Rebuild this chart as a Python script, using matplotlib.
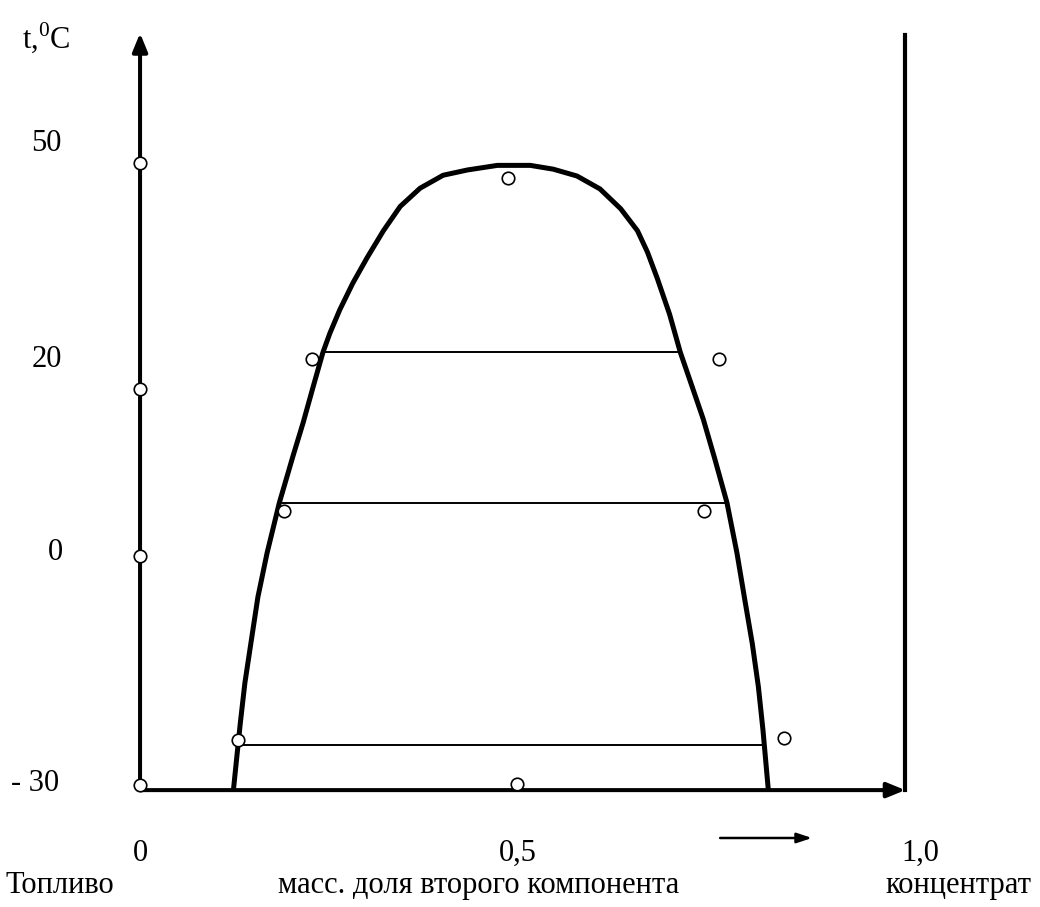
import matplotlib.pyplot as plt

plt.rcParams['font.family'] = ['Liberation Serif', 'DejaVu Serif']
plt.rcParams['mathtext.fontset'] = 'custom'
plt.rcParams['mathtext.rm'] = 'Liberation Serif'

# binodal curve (mass fraction, temperature)
curve_x = [0.122, 0.127, 0.131, 0.137, 0.146, 0.154, 0.166, 0.182, 0.200, 0.213,
           0.226, 0.239, 0.248, 0.261, 0.278, 0.297, 0.318, 0.340, 0.366, 0.396,
           0.428, 0.467, 0.510, 0.540, 0.571, 0.601, 0.628, 0.650, 0.663, 0.676,
           0.692, 0.706, 0.719, 0.736, 0.751, 0.767, 0.780, 0.791, 0.800, 0.808,
           0.814, 0.821]
curve_t = [-30.8, -25.9, -22.0, -16.7, -10.7, -5.4, 0.4, 7.0, 13.2, 17.5,
           22.2, 26.8, 29.3, 32.4, 35.9, 39.3, 42.8, 46.0, 48.4, 50.1,
           50.8, 51.4, 51.4, 50.9, 50.0, 48.3, 45.7, 42.8, 40.0, 36.5,
           31.8, 26.8, 23.0, 18.0, 12.8, 7.0, 0.4, -6.2, -11.5, -17.2,
           -22.9, -30.8]

# tie lines
tie_t = [26.8, 7.0, -24.9]
tie_x0 = [0.239, 0.182, 0.131]
tie_x1 = [0.706, 0.767, 0.814]

# measured points
pts_x = [0, 0, 0, 0, 0.481, 0.225, 0.757, 0.188, 0.737, 0.128, 0.841, 0.493]
pts_t = [51.7, 22.0, 0.0, -30.1, 49.7, 25.9, 25.9, 5.9, 5.9, -24.2, -23.9, -30.0]

ytick_labels = ['50', '20', '0', '- 30']
ytick_pos = [54.3, 25.8, 0.4, -29.9]
ytick_x = [-0.122, -0.122, -0.111, -0.137]
xtick_labels = ['0', '0,5', '1,0']
xtick_pos = [0.0, 0.493, 1.020]

base_t = -30.8
top_t = 68.8
fs = 22

fig = plt.figure(figsize=(10.4, 9.07), dpi=100)
ax = fig.add_axes([0, 0, 1, 1])
ax.set_xlim(-0.183, 1.176)
ax.set_ylim(-46.18, 73.16)
ax.axis('off')

# axes
ax.annotate('', xy=(0, top_t), xytext=(0, base_t),
            arrowprops=dict(arrowstyle='-|>,head_length=1.1,head_width=0.45',
                            lw=2.9, color='black', shrinkA=0, shrinkB=0))
ax.annotate('', xy=(1.0, base_t), xytext=(0, base_t),
            arrowprops=dict(arrowstyle='-|>,head_length=1.1,head_width=0.45',
                            lw=2.9, color='black', shrinkA=0, shrinkB=0))
ax.plot([1.0, 1.0], [base_t, 68.5], color='black', lw=3.0)

ax.plot(curve_x, curve_t, color='black', lw=3.6, solid_joinstyle='round',
        solid_capstyle='butt')
for t, a, b in zip(tie_t, tie_x0, tie_x1):
    ax.plot([a, b], [t, t], color='black', lw=1.4)

ax.plot(pts_x, pts_t, 'o', ms=9, mfc='white', mec='black', mew=1.2, zorder=5)

for lab, x, y in zip(ytick_labels, ytick_x, ytick_pos):
    ax.text(x, y, lab, fontsize=fs, ha='center', va='center')
for lab, x in zip(xtick_labels, xtick_pos):
    ax.text(x, -39.1, lab, fontsize=fs, ha='center', va='center')

ax.text(-0.122, 68.2, r't,$^{\mathrm{0}}$C', fontsize=fs, ha='center', va='center')
ax.text(-0.176, -43.3, 'Топливо', fontsize=fs, ha='left', va='center')
ax.text(0.442, -43.3, 'масс. доля второго компонента', fontsize=fs, ha='center', va='center')
ax.text(1.070, -43.3, 'концентрат', fontsize=fs, ha='center', va='center')

ax.annotate('', xy=(0.878, -37.1), xytext=(0.758, -37.1),
            arrowprops=dict(arrowstyle='-|>,head_length=0.9,head_width=0.3',
                            lw=1.8, color='black', shrinkA=0, shrinkB=0))

fig.savefig('out.png', dpi=100)
